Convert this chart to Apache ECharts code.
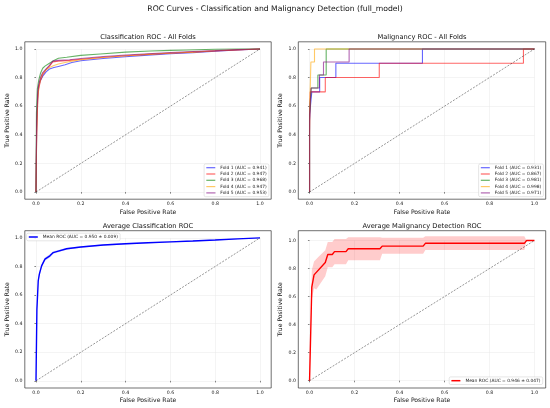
<!DOCTYPE html>
<html><head><meta charset="utf-8">
<script src="https://cdn.jsdelivr.net/npm/echarts@6/dist/echarts.min.js"></script>
<style>html,body{margin:0;padding:0;background:#fff}#c{width:550px;height:408px}</style>
</head><body><div id="c"></div>
<script>
// ---------- DATA ----------
const tickValues = [0, 0.2, 0.4, 0.6, 0.8, 1.0];
const suptitle = 'ROC Curves - Classification and Malignancy Detection (full_model)';
const panelTitles = ['Classification ROC - All Folds', 'Malignancy ROC - All Folds', 'Average Classification ROC', 'Average Malignancy Detection ROC'];
const xAxisName = 'False Positive Rate';
const yAxisName = 'True Positive Rate';

const clsNames = ['Fold 1 (AUC = 0.941)', 'Fold 2 (AUC = 0.947)', 'Fold 3 (AUC = 0.968)', 'Fold 4 (AUC = 0.947)', 'Fold 5 (AUC = 0.953)'];
const malNames = ['Fold 1 (AUC = 0.931)', 'Fold 2 (AUC = 0.867)', 'Fold 3 (AUC = 0.981)', 'Fold 4 (AUC = 0.998)', 'Fold 5 (AUC = 0.971)'];
const meanClsName = 'Mean ROC (AUC = 0.950 ± 0.009)';
const meanMalName = 'Mean ROC (AUC = 0.946 ± 0.047)';

const clsFold1 = [[0,0],[0.003,0.45],[0.008,0.68],[0.012,0.74],[0.02,0.78],[0.03,0.81],[0.045,0.84],[0.06,0.86],[0.08,0.87],[0.1,0.878],[0.13,0.89],[0.16,0.905],[0.2,0.918],[0.3,0.933],[0.4,0.946],[0.5,0.957],[0.6,0.967],[0.7,0.974],[0.8,0.984],[0.9,0.993],[1,1]];
const clsFold2 = [[0,0],[0.003,0.4],[0.008,0.65],[0.012,0.72],[0.02,0.78],[0.03,0.82],[0.045,0.855],[0.06,0.88],[0.075,0.91],[0.1,0.915],[0.15,0.92],[0.2,0.928],[0.3,0.942],[0.4,0.952],[0.5,0.962],[0.6,0.97],[0.7,0.978],[0.8,0.986],[0.9,0.993],[1,1]];
const clsFold3 = [[0,0],[0.002,0.55],[0.006,0.72],[0.012,0.78],[0.02,0.83],[0.03,0.865],[0.04,0.88],[0.06,0.9],[0.08,0.92],[0.1,0.935],[0.137,0.942],[0.2,0.955],[0.286,0.965],[0.4,0.978],[0.51,0.986],[0.6,0.99],[0.673,0.993],[0.8,0.998],[0.9,1],[1,1]];
const clsFold4 = [[0,0],[0.003,0.42],[0.008,0.66],[0.012,0.73],[0.02,0.79],[0.03,0.83],[0.045,0.855],[0.06,0.87],[0.08,0.885],[0.1,0.895],[0.13,0.905],[0.16,0.915],[0.2,0.925],[0.3,0.94],[0.4,0.952],[0.5,0.962],[0.6,0.972],[0.7,0.978],[0.8,0.987],[0.9,0.994],[1,1]];
const clsFold5 = [[0,0],[0.003,0.5],[0.008,0.7],[0.012,0.75],[0.02,0.8],[0.03,0.835],[0.045,0.86],[0.06,0.885],[0.075,0.915],[0.1,0.92],[0.15,0.925],[0.2,0.933],[0.3,0.947],[0.4,0.958],[0.5,0.967],[0.6,0.975],[0.7,0.982],[0.8,0.988],[0.9,0.995],[1,1]];

const malFold1 = [[0,0],[0,0.5],[0.004,0.5],[0.004,0.6],[0.01,0.6],[0.01,0.7],[0.045,0.7],[0.045,0.8],[0.117,0.8],[0.117,0.9],[0.502,0.9],[0.502,1],[1,1]];
const malFold2 = [[0,0],[0,0.4],[0.003,0.4],[0.003,0.7],[0.07,0.7],[0.07,0.8],[0.31,0.8],[0.31,0.9],[0.951,0.9],[0.951,1],[1,1]];
const malFold3 = [[0,0],[0,0.545],[0.007,0.545],[0.007,0.727],[0.037,0.727],[0.037,0.818],[0.074,0.818],[0.074,1],[1,1]];
const malFold4 = [[0,0],[0,0.545],[0.006,0.545],[0.006,0.909],[0.022,0.909],[0.022,1],[1,1]];
const malFold5 = [[0,0],[0,0.545],[0.007,0.545],[0.007,0.727],[0.044,0.727],[0.044,0.818],[0.062,0.818],[0.062,0.909],[0.176,0.909],[0.176,1],[1,1]];

const meanCls      = [[0,0],[0.004,0.5],[0.01,0.7],[0.015,0.746],[0.025,0.804],[0.04,0.851],[0.062,0.874],[0.077,0.897],[0.092,0.904],[0.137,0.924],[0.2,0.936],[0.3,0.95],[0.4,0.959],[0.5,0.966],[0.6,0.972],[0.7,0.978],[0.8,0.985],[0.9,0.993],[1,1]];
const meanClsUpper = [[0,0],[0.004,0.52],[0.01,0.72],[0.015,0.762],[0.025,0.818],[0.04,0.862],[0.062,0.885],[0.077,0.906],[0.092,0.912],[0.137,0.931],[0.2,0.942],[0.3,0.955],[0.4,0.964],[0.5,0.97],[0.6,0.976],[0.7,0.981],[0.8,0.988],[0.9,0.995],[1,1]];
const meanClsLower = [[0,0],[0.004,0.48],[0.01,0.68],[0.015,0.73],[0.025,0.79],[0.04,0.84],[0.062,0.863],[0.077,0.888],[0.092,0.896],[0.137,0.917],[0.2,0.93],[0.3,0.945],[0.4,0.954],[0.5,0.962],[0.6,0.968],[0.7,0.975],[0.8,0.982],[0.9,0.991],[1,1]];

const meanMal      = [[0,0],[0.01,0.667],[0.02,0.755],[0.07,0.843],[0.081,0.9],[0.101,0.9],[0.111,0.921],[0.162,0.921],[0.172,0.941],[0.313,0.941],[0.323,0.96],[0.505,0.96],[0.515,0.98],[0.955,0.98],[0.965,1],[1,1]];
const meanMalUpper = [[0,0],[0.01,0.79],[0.02,0.85],[0.04,0.885],[0.07,0.93],[0.081,0.99],[0.101,0.99],[0.111,1.01],[0.162,1.01],[0.172,1.023],[0.313,1.023],[0.323,1.02],[0.505,1.02],[0.515,1.03],[0.955,1.03],[0.965,1],[1,1]];
const meanMalLower = [[0,0],[0.01,0.58],[0.02,0.66],[0.03,0.65],[0.07,0.745],[0.081,0.81],[0.101,0.81],[0.111,0.83],[0.162,0.83],[0.172,0.86],[0.313,0.86],[0.323,0.905],[0.505,0.905],[0.515,0.932],[0.955,0.932],[0.965,1],[1,1]];

const diagonal = [[0,0],[1,1]];

// ---------- LAYOUT / STYLE ----------
const FONT = 'DejaVu Sans';
const foldColors = ['rgba(0,0,255,0.6)', 'rgba(255,0,0,0.6)', 'rgba(0,128,0,0.6)', 'rgba(255,165,0,0.6)', 'rgba(128,0,128,0.6)'];
const panels = [
  {fx:24.8,  fy:41.8,  fw:246.4, fh:157.4, xmin:-0.05, xmax:1.05, ymin:-0.05,  ymax:1.05},
  {fx:298.3, fy:41.8,  fw:247.4, fh:157.4, xmin:-0.05, xmax:1.05, ymin:-0.05,  ymax:1.05},
  {fx:24.8,  fy:230.7, fw:246.4, fh:157.3, xmin:-0.05, xmax:1.05, ymin:-0.05,  ymax:1.05},
  {fx:298.3, fy:230.7, fw:247.4, fh:157.3, xmin:-0.05, xmax:1.05, ymin:-0.052, ymax:1.07}
];

const grids = [], xAxes = [], yAxes = [], graphics = [];
panels.forEach((p, i) => {
  const sx = p.fw / (p.xmax - p.xmin), sy = p.fh / (p.ymax - p.ymin);
  grids.push({left: p.fx - p.xmin * sx, top: p.fy + (p.ymax - 1) * sy, width: sx, height: sy});
  const tickStyle = {show: true, length: 1.6, lineStyle: {color: '#333', width: 0.6}};
  const split = {show: true, lineStyle: {color: '#e8e8e8', width: 0.5}};
  xAxes.push({gridIndex: i, type: 'value', min: tickValues[0], max: tickValues[tickValues.length-1], interval: 0.2,
    offset: -p.ymin * sy, axisLine: {show: false}, axisTick: tickStyle, splitLine: split,
    axisLabel: {fontSize: 4.7, color: '#222', fontFamily: FONT, margin: 2.3, formatter: v => v.toFixed(1)}});
  yAxes.push({gridIndex: i, type: 'value', min: tickValues[0], max: tickValues[tickValues.length-1], interval: 0.2,
    offset: -p.xmin * sx, axisLine: {show: false}, axisTick: tickStyle, splitLine: split,
    axisLabel: {fontSize: 4.7, color: '#222', fontFamily: FONT, margin: 2.3, formatter: v => v.toFixed(1)}});
  graphics.push({type: 'rect', silent: true, z: 50, shape: {x: p.fx, y: p.fy, width: p.fw, height: p.fh},
    style: {fill: null, stroke: '#333', lineWidth: 0.7}});
  graphics.push({type: 'text', silent: true, x: p.fx + p.fw / 2, y: p.fy - 4.8,
    style: {text: panelTitles[i], fontSize: 6.7, fontFamily: FONT, fill: '#111', align: 'center', verticalAlign: 'middle'}});
  graphics.push({type: 'text', silent: true, x: p.fx + p.fw / 2, y: p.fy + p.fh + 12.8,
    style: {text: xAxisName, fontSize: 6.1, fontFamily: FONT, fill: '#111', align: 'center', verticalAlign: 'middle'}});
  graphics.push({type: 'text', silent: true, x: p.fx - 17.5, y: p.fy + p.fh / 2, rotation: Math.PI / 2,
    style: {text: yAxisName, fontSize: 6.1, fontFamily: FONT, fill: '#111', align: 'center', verticalAlign: 'middle'}});
});
graphics.push({type: 'text', silent: true, x: 275, y: 9,
  style: {text: suptitle, fontSize: 7.7, fontFamily: FONT, fill: '#111', align: 'center', verticalAlign: 'middle'}});

function line(g, name, data, color, width, z) {
  return {type: 'line', name, xAxisIndex: g, yAxisIndex: g, data, symbol: 'none', showSymbol: false, clip: false,
    animation: false, silent: true, z: z || 2, lineStyle: {color, width}, itemStyle: {color}};
}
function diag(g) {
  return {type: 'line', xAxisIndex: g, yAxisIndex: g, data: diagonal, symbol: 'none', clip: false, animation: false, silent: true, z: 3,
    lineStyle: {color: 'rgba(0,0,0,0.7)', width: 0.6, type: [2, 1.4]}};
}
function band(g, upper, lower, color) {
  return {type: 'custom', xAxisIndex: g, yAxisIndex: g, data: [[0, 0]], clip: false, silent: true, animation: false, z: 1,
    renderItem: (params, api) => {
      const pts = upper.map(pt => api.coord(pt)).concat(lower.slice().reverse().map(pt => api.coord(pt)));
      return {type: 'polygon', shape: {points: pts}, style: {fill: color}};
    }};
}
function legend(names, pos, ih) {
  return Object.assign({data: names.map(n => ({name: n, icon: 'rect'})), orient: 'vertical', selectedMode: false,
    itemWidth: 9, itemHeight: ih, itemGap: 1.9, padding: [1.6, 2.2, 1.6, 2.2],
    backgroundColor: 'rgba(255,255,255,0.85)', borderColor: '#cccccc', borderWidth: 0.5, borderRadius: 1.5,
    textStyle: {fontSize: 4.4, lineHeight: 4.4, color: '#222', fontFamily: FONT}}, pos);
}

const clsFolds = [clsFold1, clsFold2, clsFold3, clsFold4, clsFold5];
const malFolds = [malFold1, malFold2, malFold3, malFold4, malFold5];
const series = [];
clsFolds.forEach((d, k) => series.push(line(0, clsNames[k], d, foldColors[k], 1.1)));
series.push(diag(0));
malFolds.forEach((d, k) => series.push(line(1, malNames[k], d, foldColors[k], 1.1)));
series.push(diag(1));
series.push(band(2, meanClsUpper, meanClsLower, 'rgba(0,0,255,0.2)'));
series.push(line(2, meanClsName, meanCls, '#0000ff', 1.4));
series.push(diag(2));
series.push(band(3, meanMalUpper, meanMalLower, 'rgba(255,0,0,0.2)'));
series.push(line(3, meanMalName, meanMal, '#ff0000', 1.4));
series.push(diag(3));

const P = panels;
const legends = [
  legend(clsNames, {right: 550 - (P[0].fx + P[0].fw - 2.3), bottom: 408 - (P[0].fy + P[0].fh - 2.5)}, 1.2),
  legend(malNames, {right: 550 - (P[1].fx + P[1].fw - 2.3), bottom: 408 - (P[1].fy + P[1].fh - 2.5)}, 1.2),
  legend([meanClsName], {left: P[2].fx + 1.8, top: P[2].fy + 2.5}, 1.5),
  legend([meanMalName], {right: 550 - (P[3].fx + P[3].fw - 3), bottom: 408 - (P[3].fy + P[3].fh - 3.5)}, 1.5)
];

const chart = echarts.init(document.getElementById('c'), null, {renderer: 'canvas'});
chart.setOption({
  backgroundColor: '#ffffff',
  animation: false,
  grid: grids, xAxis: xAxes, yAxis: yAxes,
  legend: legends,
  graphic: graphics,
  series
});
</script>
</body></html>
